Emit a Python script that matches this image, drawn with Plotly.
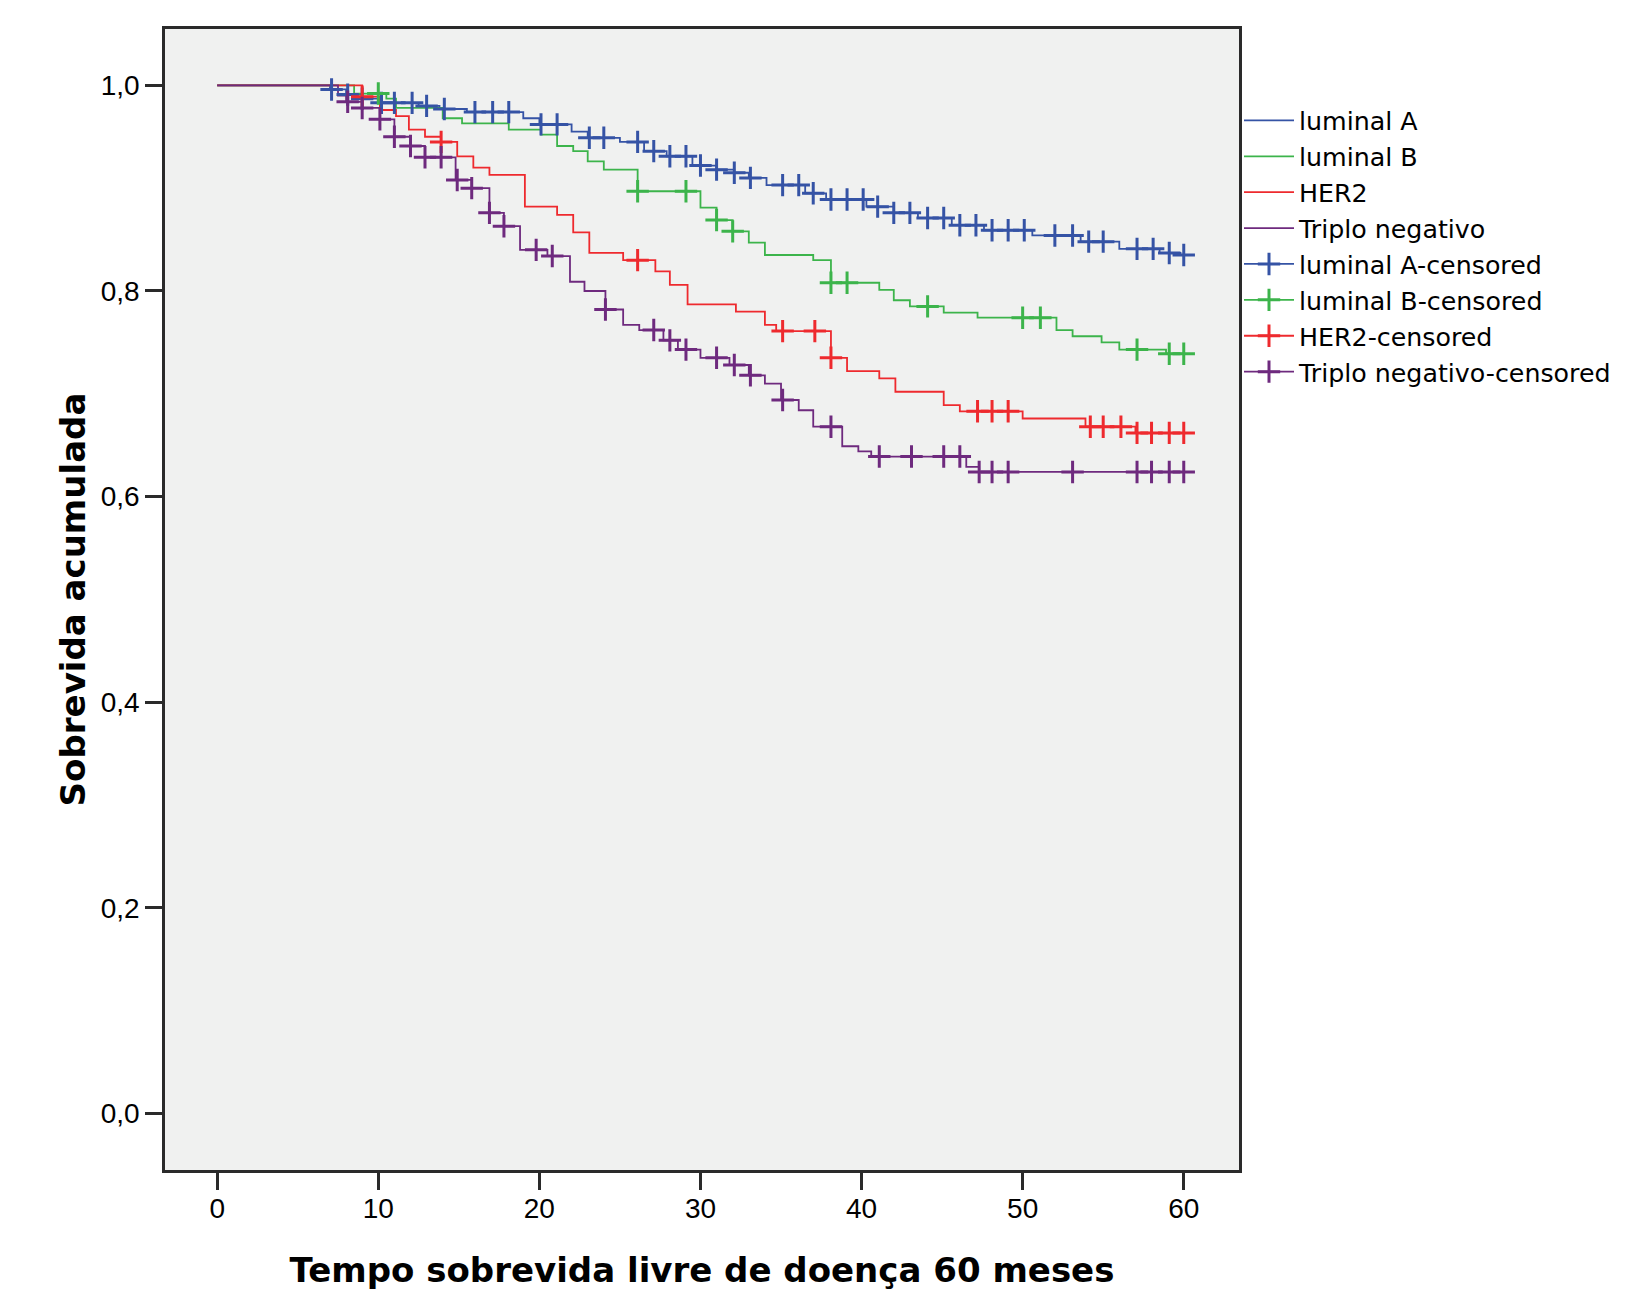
import plotly.graph_objects as go

# ---------------- data ----------------
group_names = ["luminal A", "luminal B", "HER2", "Triplo negativo"]
group_colors = ["#3553a5", "#3cb44b", "#ee2a2e", "#6e2a7e"]

# luminal A: event times (months) and survival after each event
la_t = [7.0, 8.0, 9.0, 10.0, 12.5, 13.8, 15.5, 19.0, 20.0, 22.0, 23.0, 25.0, 26.5, 27.9, 29.5,
        31.0, 32.1, 33.0, 34.1, 36.5, 37.8, 40.3, 42.0, 43.5, 45.6, 47.6, 50.6, 53.6, 56.0, 58.5, 59.8]
la_s = [0.996, 0.991, 0.987, 0.983, 0.980, 0.977, 0.974, 0.968, 0.962, 0.955, 0.949, 0.945, 0.936, 0.931, 0.922,
        0.918, 0.915, 0.910, 0.903, 0.895, 0.889, 0.882, 0.876, 0.871, 0.864, 0.859, 0.854, 0.848, 0.841, 0.837, 0.835]
la_c = [7.1, 8.1, 9.0, 10.2, 11.0, 12.1, 13.0, 14.1, 16.0, 17.1, 18.1, 20.1, 21.1, 23.1, 24.0, 26.1, 27.1,
        28.1, 29.1, 30.0, 31.0, 32.1, 33.1, 35.1, 36.1, 37.0, 38.1, 39.1, 40.1, 41.0, 42.0, 43.0, 44.1, 45.1,
        46.1, 47.1, 48.1, 49.1, 50.1, 52.0, 53.1, 54.1, 55.0, 57.1, 58.1, 59.1, 60.0]

# luminal B
lb_t = [8.5, 10.5, 11.1, 14.0, 15.2, 18.1, 20.1, 21.1, 22.1, 23.0, 24.0, 26.1, 30.0, 31.0, 32.0,
        33.0, 34.0, 37.0, 38.1, 41.1, 42.0, 43.0, 45.1, 47.2, 52.1, 53.1, 54.9, 56.0, 58.9]
lb_s = [0.992, 0.987, 0.978, 0.968, 0.963, 0.957, 0.952, 0.941, 0.936, 0.926, 0.918, 0.897, 0.881, 0.869, 0.858,
        0.847, 0.835, 0.830, 0.808, 0.801, 0.791, 0.785, 0.779, 0.774, 0.762, 0.756, 0.750, 0.743, 0.739]
lb_c = [10.0, 26.1, 29.1, 31.0, 32.0, 38.1, 39.1, 44.1, 50.0, 51.1, 57.1, 59.1, 60.0]

# HER2
her_t = [9.0, 10.1, 11.1, 11.9, 12.9, 13.9, 14.9, 15.9, 16.9, 19.1, 21.1, 22.1, 23.1, 25.2, 27.2,
         28.1, 29.2, 32.2, 34.0, 34.7, 38.1, 39.1, 41.1, 42.1, 45.1, 46.1, 50.0, 53.9, 57.0]
her_s = [0.989, 0.976, 0.970, 0.957, 0.950, 0.945, 0.931, 0.920, 0.913, 0.882, 0.874, 0.857, 0.837, 0.830, 0.819,
         0.806, 0.787, 0.780, 0.767, 0.761, 0.735, 0.722, 0.715, 0.702, 0.689, 0.683, 0.676, 0.668, 0.662]
her_c = [9.0, 13.9, 26.1, 35.1, 37.1, 38.1, 47.2, 48.1, 49.1, 54.2, 55.0, 56.1, 57.1, 58.0, 59.1, 60.0]

# Triplo negativo
tn_t = [7.5, 8.0, 9.0, 10.1, 11.0, 12.0, 12.9, 14.8, 15.8, 16.9, 17.8, 18.8, 20.5, 21.9, 22.8, 24.1,
        25.2, 26.2, 27.7, 28.6, 30.0, 31.8, 33.0, 34.0, 35.0, 36.1, 37.0, 38.8, 39.8, 40.6, 46.5, 47.3]
tn_s = [0.990, 0.984, 0.978, 0.967, 0.950, 0.941, 0.930, 0.908, 0.900, 0.876, 0.863, 0.840, 0.834, 0.809, 0.800, 0.782,
        0.767, 0.762, 0.752, 0.743, 0.735, 0.728, 0.718, 0.710, 0.694, 0.684, 0.668, 0.649, 0.644, 0.639, 0.629, 0.624]
tn_c = [8.1, 9.0, 10.1, 11.0, 12.0, 12.9, 13.9, 14.9, 15.8, 16.9, 17.8, 19.8, 20.8, 24.1, 27.1, 28.1, 29.1,
        31.0, 32.1, 33.1, 35.1, 38.1, 41.1, 43.1, 45.1, 46.1, 47.3, 48.1, 49.1, 53.1, 57.1, 58.0, 59.1, 60.0]

follow_up_end = 60.0
x_ticks = [0, 10, 20, 30, 40, 50, 60]
y_ticks = [0.0, 0.2, 0.4, 0.6, 0.8, 1.0]
y_tick_labels = ["0,0", "0,2", "0,4", "0,6", "0,8", "1,0"]

groups = [(la_t, la_s, la_c), (lb_t, lb_s, lb_c), (her_t, her_s, her_c), (tn_t, tn_s, tn_c)]


def surv_at(times, survs, t):
    s = 1.0
    for ti, si in zip(times, survs):
        if ti <= t:
            s = si
    return s


FONT = "DejaVu Sans"
TICKFONT = "Liberation Sans"
AXIS_COLOR = "#2a2a2a"
fig = go.Figure()

# survival step lines
for name, color, (t, s, c) in zip(group_names, group_colors, groups):
    xs = [0.0] + list(t) + [follow_up_end]
    ys = [1.0] + list(s) + [s[-1]]
    fig.add_trace(go.Scatter(
        x=xs, y=ys, mode="lines", name=name,
        line=dict(color=color, width=1.8, shape="hv"),
        legendgroup=name + "_l",
    ))

# censored marks
for name, color, (t, s, c) in zip(group_names, group_colors, groups):
    cx, cy = [], []
    for ct in c:
        cx += [ct, None]
        cy += [surv_at(t, s, ct), None]
    fig.add_trace(go.Scatter(
        x=cx, y=cy, mode="lines+markers", name=name + "-censored",
        line=dict(color=color, width=1.8),
        marker=dict(symbol="cross-thin", size=16, color=color,
                    line=dict(color=color, width=3)),
        connectgaps=False,
        legendgroup=name + "_c",
    ))

fig.update_layout(
    width=1627, height=1283,
    paper_bgcolor="white",
    plot_bgcolor="#f0f1f0",
    margin=dict(l=157, r=396, t=21, b=121, autoexpand=False),
    font=dict(family=FONT, color="black", size=22),
    showlegend=True,
    legend=dict(
        x=1.0, xanchor="left", y=0.940, yanchor="top",
        font=dict(family=FONT, size=25.3, color="black"),
        bgcolor="rgba(0,0,0,0)", borderwidth=0,
        itemwidth=50, traceorder="normal", tracegroupgap=0,
        itemclick=False,
    ),
    xaxis=dict(
        range=[-3.24, 63.43], tickvals=x_ticks, ticktext=[str(v) for v in x_ticks],
        showgrid=False, zeroline=False, automargin=False,
        showline=True, mirror=True, linecolor=AXIS_COLOR, linewidth=2.5,
        ticks="outside", ticklen=17, tickwidth=2.5, tickcolor=AXIS_COLOR,
        ticklabelstandoff=-5,
        tickfont=dict(family=TICKFONT, size=28, color="black"),
        title=dict(text="<b>Tempo sobrevida livre de doença 60 meses</b>",
                   font=dict(family=FONT, size=34, color="black"), standoff=35),
    ),
    yaxis=dict(
        range=[-0.0549, 1.0548], tickvals=y_ticks, ticktext=y_tick_labels,
        showgrid=False, zeroline=False, automargin=False,
        showline=True, mirror=True, linecolor=AXIS_COLOR, linewidth=2.5,
        ticks="outside", ticklen=17, tickwidth=2.5, tickcolor=AXIS_COLOR,
        tickfont=dict(family=TICKFONT, size=28, color="black"),
        title=dict(text="<b>Sobrevida acumulada</b>",
                   font=dict(family=FONT, size=34, color="black"), standoff=5),
    ),
)

fig.write_html("out.html")
